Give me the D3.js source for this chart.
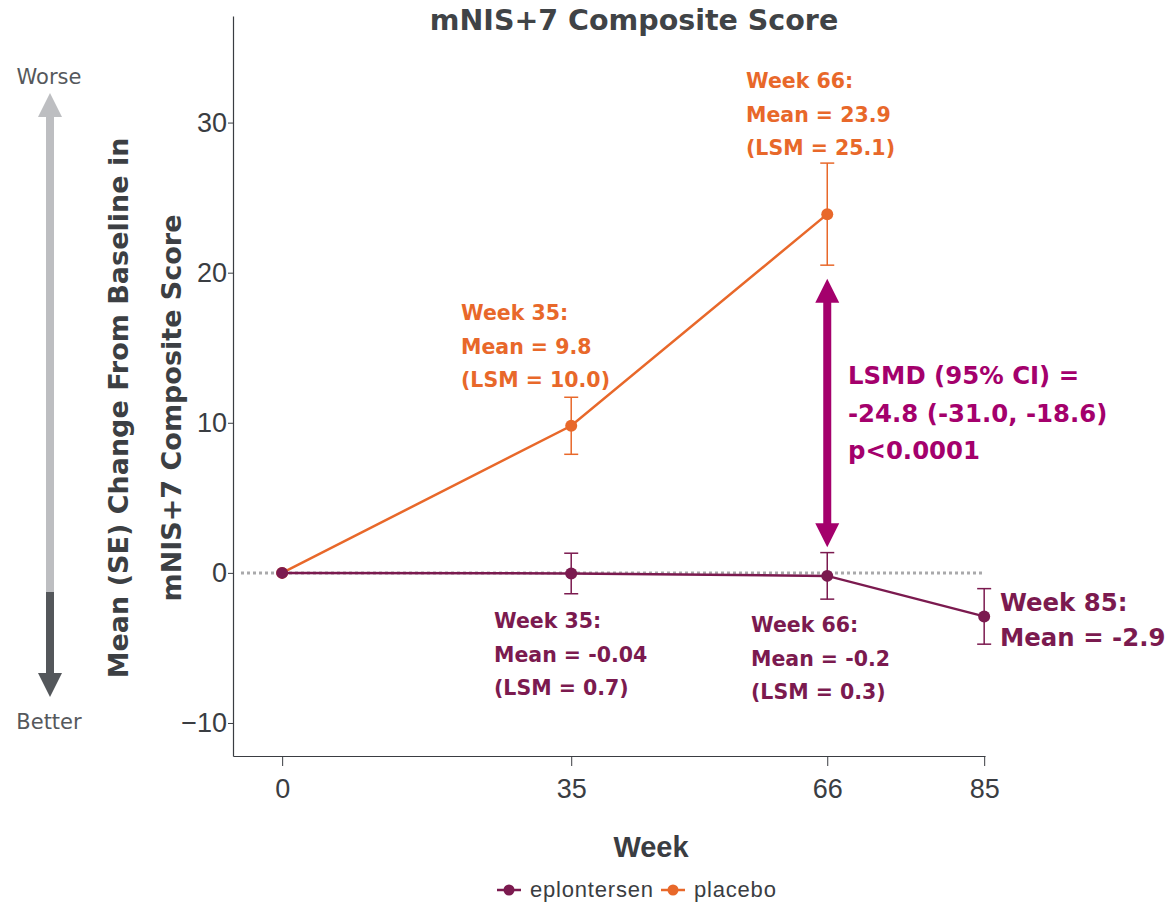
<!DOCTYPE html>
<html>
<head>
<meta charset="utf-8">
<script src="https://cdn.jsdelivr.net/npm/d3@7"></script>
<style>
  body { margin: 0; background: #fff; }
</style>
</head>
<body>
<div id="chart"></div>
<script>
// Data
const xTicks = [0, 35, 66, 85];
const yTicks = [-10, 0, 10, 20, 30];

const eplonWeeks = [0, 35, 66, 85];
const eplonMean = [0, -0.04, -0.2, -2.9];
const eplonSE = [0, 1.35, 1.55, 1.85];

const placeboWeeks = [0, 35, 66];
const placeboMean = [0, 9.8, 23.9];
const placeboSE = [0, 1.9, 3.4];

const colEplon = "#7b1a4f";
const colPlacebo = "#e8682a";
const colLsmd = "#a4006c";

const boldFont = "'DejaVu Sans', sans-serif";
const arial = "'Liberation Sans', Arial, sans-serif";

// Chart dimensions
const W = 1176, H = 905;
const plot = { left: 233, right: 985, top: 16, bottom: 756 };

const svg = d3.select("#chart")
    .append("svg")
    .attr("width", W)
    .attr("height", H);

// Scales
const x = d3.scaleLinear()
    .domain([-5.95, 85.1])
    .range([plot.left, plot.right]);

const y = d3.scaleLinear()
    .domain([-12.2, 37.1])
    .range([plot.bottom, plot.top]);

// Axes
const xAxis = svg.append("g")
    .attr("transform", "translate(0," + plot.bottom + ")")
    .call(d3.axisBottom(x).tickValues(xTicks).tickSize(10).tickPadding(13).tickSizeOuter(0));
xAxis.select(".domain").attr("stroke", "#3a3d42").attr("stroke-width", 1.2);
xAxis.selectAll(".tick line").attr("stroke", "#3a3d42");
xAxis.selectAll("text")
    .attr("font-family", arial)
    .attr("font-size", 27)
    .attr("fill", "#3a3d42");

const yAxis = svg.append("g")
    .attr("transform", "translate(" + plot.left + ",0)")
    .call(d3.axisLeft(y).tickValues(yTicks).tickSize(5).tickPadding(1).tickSizeOuter(0)
        .tickFormat(d => d < 0 ? "\u2212" + Math.abs(d) : d));
yAxis.select(".domain").attr("stroke", "#3a3d42").attr("stroke-width", 1.2);
yAxis.selectAll(".tick line").attr("stroke", "#3a3d42");
yAxis.selectAll("text")
    .attr("font-family", arial)
    .attr("font-size", 27)
    .attr("fill", "#3a3d42");

// Zero reference line
svg.append("line")
    .attr("x1", plot.left + 8)
    .attr("x2", plot.right)
    .attr("y1", y(0))
    .attr("y2", y(0))
    .attr("stroke", "#a9a9ab")
    .attr("stroke-width", 3)
    .attr("stroke-dasharray", "3,3");

// Series drawing
function drawSeries(wk, mean, se, color) {
    const pts = wk.map((w, i) => ({ w: w, m: mean[i], se: se[i] }));
    const line = d3.line().x(d => x(d.w)).y(d => y(d.m));

    svg.append("path")
        .datum(pts)
        .attr("fill", "none")
        .attr("stroke", color)
        .attr("stroke-width", 2.5)
        .attr("d", line);

    const eb = svg.append("g")
        .attr("stroke", color)
        .attr("stroke-width", 1.5);
    pts.filter(d => d.se > 0).forEach(d => {
        eb.append("line")
            .attr("x1", x(d.w)).attr("x2", x(d.w))
            .attr("y1", y(d.m + d.se)).attr("y2", y(d.m - d.se));
        [d.m + d.se, d.m - d.se].forEach(v => {
            eb.append("line")
                .attr("x1", x(d.w) - 7).attr("x2", x(d.w) + 7)
                .attr("y1", y(v)).attr("y2", y(v));
        });
    });

    svg.append("g")
        .selectAll("circle")
        .data(pts)
        .join("circle")
        .attr("cx", d => x(d.w))
        .attr("cy", d => y(d.m))
        .attr("r", 6)
        .attr("fill", color);
}

drawSeries(placeboWeeks, placeboMean, placeboSE, colPlacebo);
drawSeries(eplonWeeks, eplonMean, eplonSE, colEplon);

// LSMD double arrow at week 66
const ax = x(66);
const aTop = y(19.6), aBot = y(1.7);
const lsmd = svg.append("g").attr("fill", colLsmd);
lsmd.append("rect")
    .attr("x", ax - 4).attr("width", 8)
    .attr("y", aTop + 20).attr("height", aBot - aTop - 40);
lsmd.append("path")
    .attr("d", `M${ax},${aTop} L${ax - 12},${aTop + 24} L${ax + 12},${aTop + 24} Z`);
lsmd.append("path")
    .attr("d", `M${ax},${aBot} L${ax - 12},${aBot - 24} L${ax + 12},${aBot - 24} Z`);

// Annotations
function note(lines, x0, y0, lh, size, color) {
    const t = svg.append("text")
        .attr("x", x0)
        .attr("y", y0)
        .attr("fill", color)
        .attr("font-family", boldFont)
        .attr("font-size", size)
        .attr("font-weight", 700);
    lines.forEach((s, i) => {
        t.append("tspan").attr("x", x0).attr("y", y0 + i * lh).text(s);
    });
}

note(["Week 66:", "Mean = 23.9", "(LSM = 25.1)"], 746, 88, 33.5, 20.5, colPlacebo);
note(["Week 35:", "Mean = 9.8", "(LSM = 10.0)"], 461, 320, 33.5, 20.5, colPlacebo);
note(["LSMD (95% CI) =", "-24.8 (-31.0, -18.6)", "p<0.0001"], 848, 384, 37.5, 24.4, colLsmd);
note(["Week 35:", "Mean = -0.04", "(LSM = 0.7)"], 494, 628, 33.5, 20.5, colEplon);
note(["Week 66:", "Mean = -0.2", "(LSM = 0.3)"], 751, 632, 33.5, 20.5, colEplon);
note(["Week 85:", "Mean = -2.9"], 1000, 611, 35, 24.4, colEplon);

// Title
svg.append("text")
    .attr("x", 634)
    .attr("y", 30)
    .attr("text-anchor", "middle")
    .attr("font-family", boldFont)
    .attr("font-size", 28.5)
    .attr("font-weight", 700)
    .attr("fill", "#404346")
    .text("mNIS+7 Composite Score");

// Y axis title
const yt = svg.append("text")
    .attr("transform", "translate(0,408) rotate(-90)")
    .attr("text-anchor", "middle")
    .attr("font-family", boldFont)
    .attr("font-size", 27)
    .attr("font-weight", 700)
    .attr("fill", "#3c3f43");
yt.append("tspan").attr("x", 0).attr("y", 128).text("Mean (SE) Change From Baseline in");
yt.append("tspan").attr("x", 0).attr("y", 181).text("mNIS+7 Composite Score");

// X axis title
svg.append("text")
    .attr("x", 651)
    .attr("y", 857)
    .attr("text-anchor", "middle")
    .attr("font-family", arial)
    .attr("font-size", 29)
    .attr("font-weight", 700)
    .attr("fill", "#3a3d42")
    .text("Week");

// Worse / Better arrow
const arr = svg.append("g");
arr.append("path")
    .attr("fill", "#bdbec1")
    .attr("d", "M50,93 L38,117 L46,117 L46,592 L54,592 L54,117 L62,117 Z");
arr.append("path")
    .attr("fill", "#54575b")
    .attr("d", "M46,592 L46,673 L38,673 L50,697 L62,673 L54,673 L54,592 Z");
svg.append("text")
    .attr("x", 49).attr("y", 84)
    .attr("text-anchor", "middle")
    .attr("font-family", boldFont)
    .attr("font-size", 21)
    .attr("fill", "#55585c")
    .text("Worse");
svg.append("text")
    .attr("x", 49).attr("y", 729)
    .attr("text-anchor", "middle")
    .attr("font-family", boldFont)
    .attr("font-size", 21)
    .attr("fill", "#55585c")
    .text("Better");

// Legend
const legendItems = [
    { name: "eplontersen", color: colEplon, x: 497 },
    { name: "placebo", color: colPlacebo, x: 661 }
];
const lg = svg.append("g");
legendItems.forEach(d => {
    lg.append("line")
        .attr("x1", d.x).attr("x2", d.x + 24)
        .attr("y1", 890).attr("y2", 890)
        .attr("stroke", d.color).attr("stroke-width", 2.5);
    lg.append("circle")
        .attr("cx", d.x + 12).attr("cy", 890).attr("r", 5.5)
        .attr("fill", d.color);
    lg.append("text")
        .attr("x", d.x + 33).attr("y", 897)
        .attr("font-family", arial)
        .attr("font-size", 22)
        .attr("letter-spacing", 0.8)
        .attr("fill", "#3a3d42")
        .text(d.name);
});
</script>
</body>
</html>
